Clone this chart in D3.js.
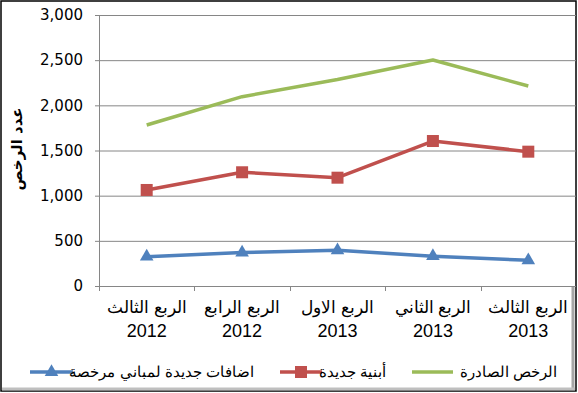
<!DOCTYPE html>
<html><head><meta charset="utf-8">
<script src="https://cdn.jsdelivr.net/npm/d3@7"></script>
<style>body{margin:0;background:#fff}svg{display:block}</style>
</head><body>
<svg id="c" width="578" height="393"></svg>
<script>
const categories = [["الربع الثالث","2012"],["الربع الرابع","2012"],["الربع الاول","2013"],["الربع الثاني","2013"],["الربع الثالث","2013"]];
const seriesNames = ["اضافات جديدة لمباني مرخصة","أبنية جديدة","الرخص الصادرة"];
const additions = [325, 370, 395, 330, 285];
const newBuildings = [1063, 1259, 1199, 1605, 1487];
const permits = [1782, 2096, 2285, 2502, 2214];
const yTicks = [0, 500, 1000, 1500, 2000, 2500, 3000];
const yTitle = "عدد الرخص";

const svg = d3.select("#c");
const L = 99, R = 576, T = 15, B = 286;
const x = d3.scaleBand().domain(d3.range(categories.length)).range([L, R]);
const y = d3.scaleLinear().domain([0, 3000]).range([B, T]);
const fmt = d3.format(",");

// frame
svg.append("rect").attr("x",1).attr("y",1).attr("width",575).attr("height",390).attr("fill","#fff").attr("stroke","#000").attr("stroke-width",1.5);
svg.append("rect").attr("x",571.5).attr("y",287).attr("width",3).attr("height",102).attr("fill","#a6a6a6");
svg.append("rect").attr("x",2).attr("y",387.5).attr("width",573).attr("height",3).attr("fill","#bfbfbf");

// gridlines & y labels
const ya = svg.append("g").attr("transform",`translate(${L},0)`)
  .call(d3.axisLeft(y).tickValues(yTicks).tickFormat(fmt).tickSize(-(R-L)).tickPadding(16));
ya.select(".domain").remove();
ya.selectAll(".tick line").attr("stroke","#868686").attr("x1",-4);
ya.selectAll(".tick text").attr("font-family","DejaVu Sans").attr("font-size",15).attr("fill","#000");

// y axis line
svg.append("line").attr("x1",L+0.5).attr("x2",L+0.5).attr("y1",T).attr("y2",B).attr("stroke","#868686");
// x axis
svg.append("line").attr("x1",L).attr("x2",R).attr("y1",B+0.5).attr("y2",B+0.5).attr("stroke","#868686");
const bounds = d3.range(categories.length).map(i => x(i));
svg.selectAll(".xt").data(bounds).join("line")
  .attr("x1",d=>Math.round(d)+0.5).attr("x2",d=>Math.round(d)+0.5).attr("y1",B).attr("y2",B+5).attr("stroke","#868686");

// x labels
const xl = svg.selectAll(".xl").data(categories).join("text")
  .attr("text-anchor","middle").attr("font-family","Liberation Sans, Arial").attr("font-size",17).attr("fill","#000");
xl.append("tspan").attr("x",(d,i)=>x(i)+x.bandwidth()/2).attr("y",313).text(d=>d[0]);
xl.append("tspan").attr("x",(d,i)=>x(i)+x.bandwidth()/2).attr("y",337).attr("font-size",18).text(d=>d[1]);

// y title
svg.append("text").attr("transform","translate(22,149) rotate(-90)").attr("text-anchor","middle")
  .attr("font-family","DejaVu Sans").attr("font-weight","bold").attr("font-size",15).text(yTitle);

const cx = i => x(i) + x.bandwidth()/2;
const line = d3.line().x((d,i)=>cx(i)).y(d=>y(d));
const colors = ["#4F81BD","#C0504D","#9BBB59"];
const data = [additions, newBuildings, permits];
data.forEach((s,k)=>{
  svg.append("path").datum(s).attr("d",line).attr("fill","none").attr("stroke",colors[k]).attr("stroke-width",3.5).attr("stroke-linejoin","round");
});
const tri = d3.symbol().type(d3.symbolTriangle).size(80);
svg.selectAll(".m0").data(additions).join("path").attr("d",tri)
  .attr("transform",(d,i)=>`translate(${cx(i)},${y(d)})`).attr("fill",colors[0]);
svg.selectAll(".m1").data(newBuildings).join("rect")
  .attr("x",(d,i)=>cx(i)-6).attr("y",d=>y(d)-6).attr("width",12).attr("height",12).attr("fill",colors[1]);

// legend
const leg = [
  {line:[30,73], textEnd:254, marker:"tri"},
  {line:[280,322], textEnd:386, marker:"sq"},
  {line:[412,453], textEnd:557, marker:null}
];
const LY = 372;
leg.forEach((g,k)=>{
  svg.append("line").attr("x1",g.line[0]).attr("x2",g.line[1]).attr("y1",LY).attr("y2",LY).attr("stroke",colors[k]).attr("stroke-width",3.5);
  const mx = (g.line[0]+g.line[1])/2;
  if (g.marker==="tri") svg.append("path").attr("d",tri).attr("transform",`translate(${mx},${LY})`).attr("fill",colors[k]);
  if (g.marker==="sq") svg.append("rect").attr("x",mx-6).attr("y",LY-6).attr("width",12).attr("height",12).attr("fill",colors[k]);
  svg.append("text").attr("x",g.textEnd).attr("y",LY+5).attr("text-anchor","end")
    .attr("font-family","Liberation Sans, Arial").attr("font-size",15).attr("fill","#000").text(seriesNames[k]);
});
</script>
</body></html>
